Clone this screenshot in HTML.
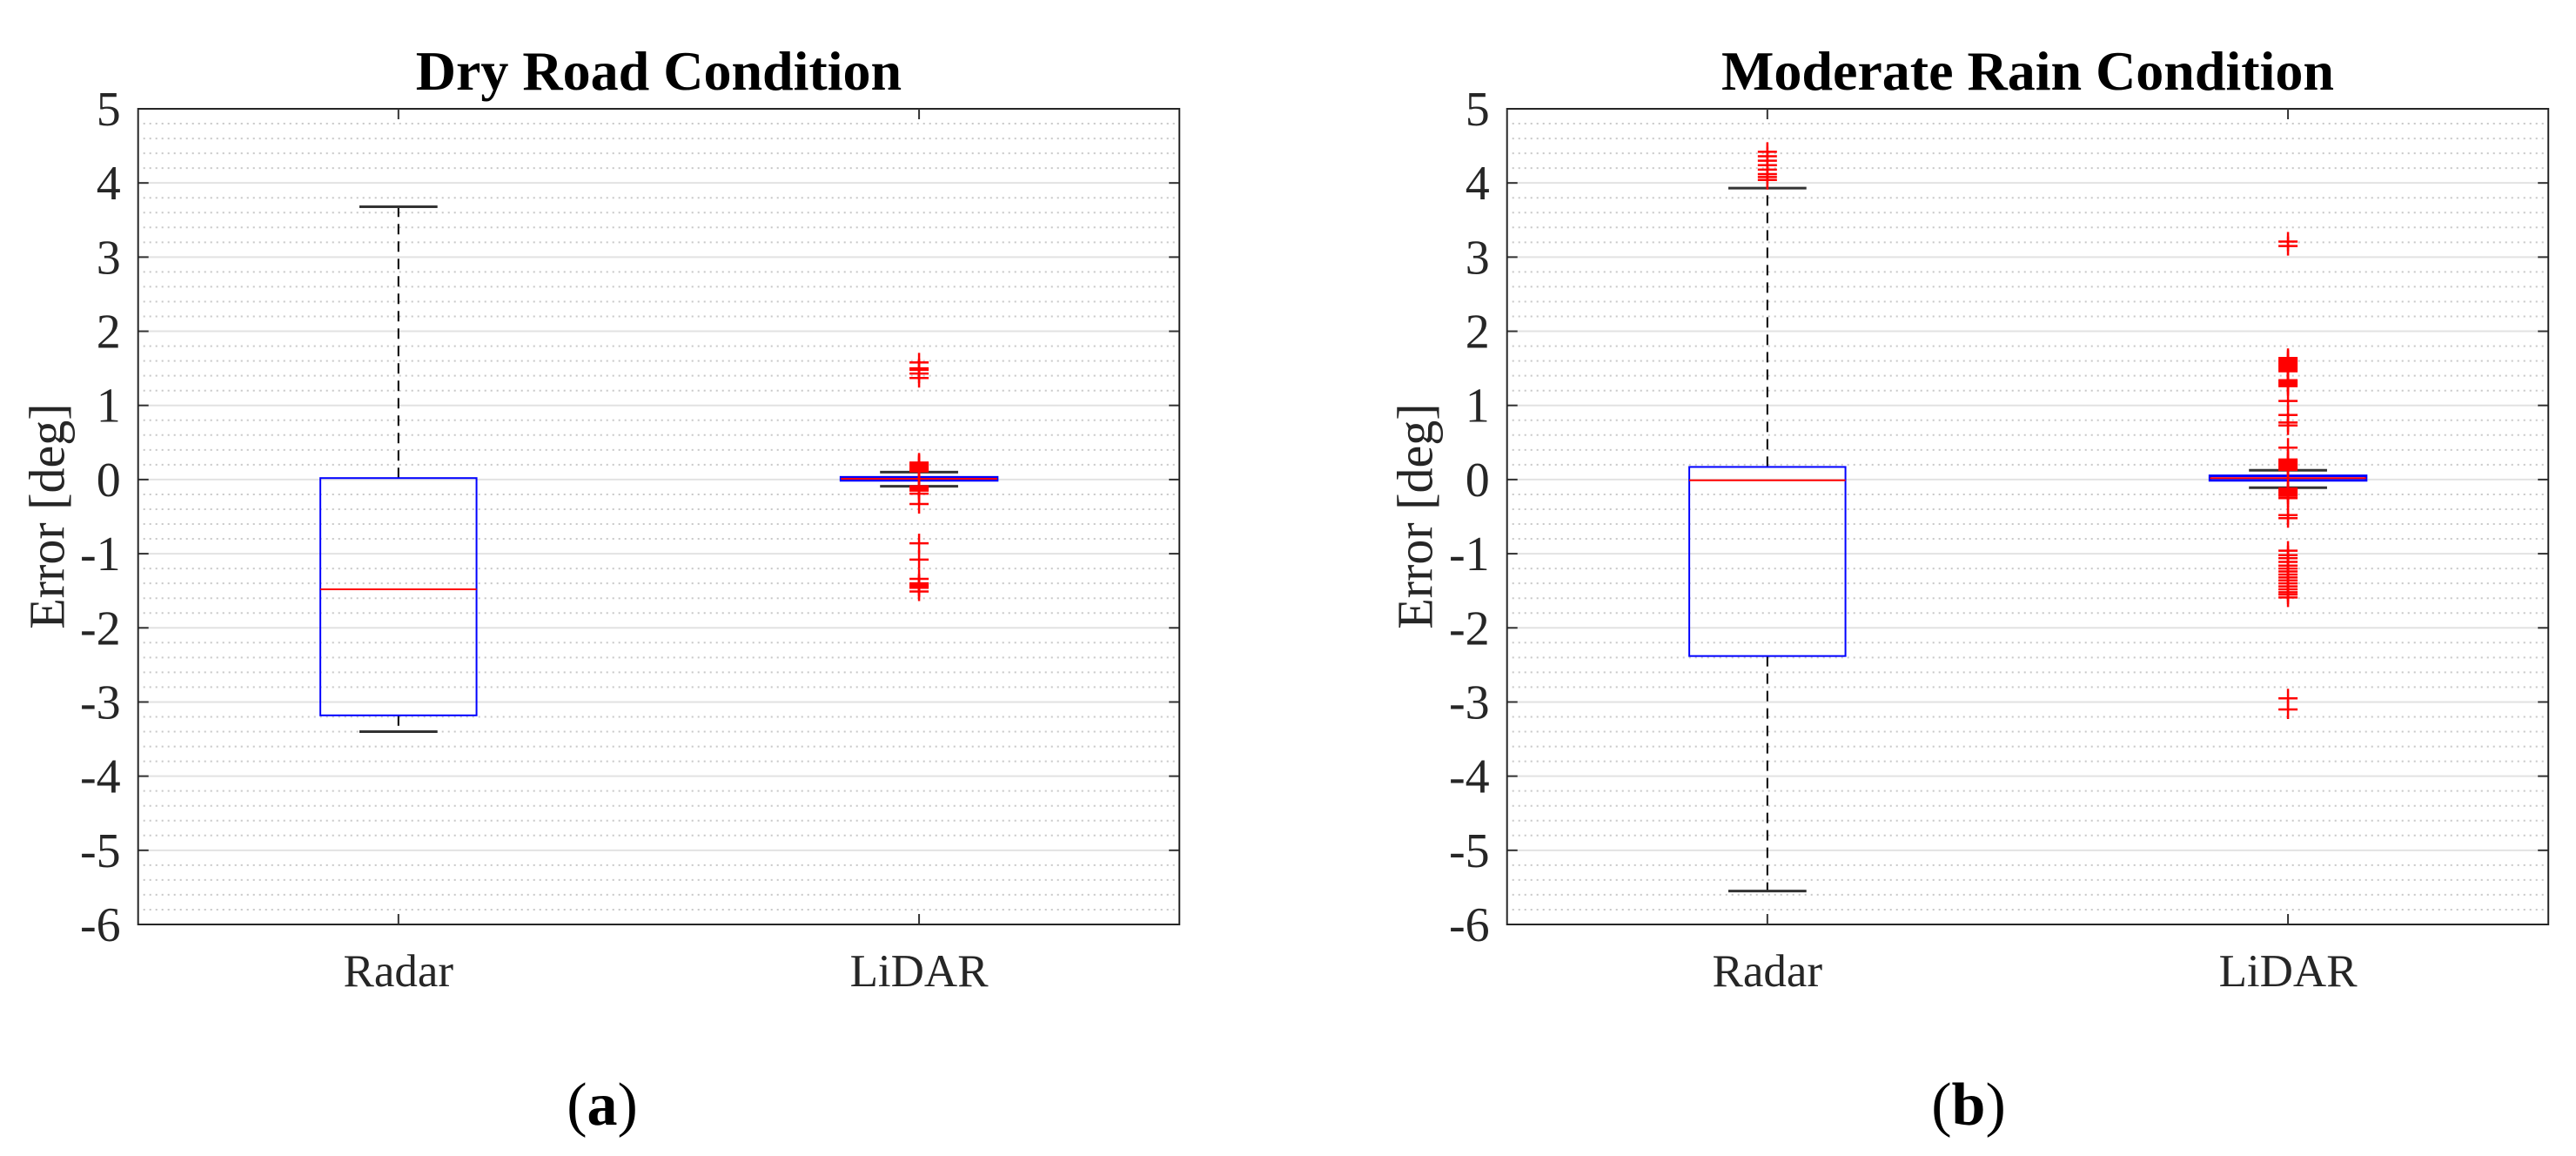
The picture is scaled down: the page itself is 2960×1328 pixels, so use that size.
<!DOCTYPE html>
<html><head><meta charset="utf-8"><style>
html,body{margin:0;padding:0;background:#fff;}
svg{display:block;font-family:"Liberation Serif",serif;}
</style></head><body>
<svg id="fig" width="2960" height="1328" viewBox="0 0 2960 1328" xmlns="http://www.w3.org/2000/svg"></svg>
<script>
// ---- data ----
const categories = ["Radar", "LiDAR"];
const yTicks = [5, 4, 3, 2, 1, 0, -1, -2, -3, -4, -5, -6];
const titles = ["Dry Road Condition", "Moderate Rain Condition"];
const panelLabels = ["(a)", "(b)"];
// [lowerWhisker, Q1, median, Q3, upperWhisker]
const dryRadarStats = [-3.40, -3.18, -1.48, 0.02, 3.68];
const dryLidarStats = [-0.09, -0.01, 0.01, 0.03, 0.10];
const rainRadarStats = [-5.55, -2.38, -0.01, 0.17, 3.93];
const rainLidarStats = [-0.11, -0.01, 0.02, 0.05, 0.125];
const dryRadarOutliers = [];
const dryLidarOutliers = [1.58, 1.50, 1.48, 1.43, 1.37,
  0.23, 0.215, 0.20, 0.185, 0.17, 0.155, 0.14, 0.125, 0.11,
  -0.09, -0.105, -0.12, -0.135, -0.15, -0.19, -0.33,
  -0.86, -1.08, -1.34, -1.40, -1.415, -1.43, -1.445, -1.46, -1.51];
const rainRadarOutliers = [4.42, 4.36, 4.30, 4.24, 4.18, 4.12, 4.08, 4.04];
const rainLidarOutliers = [3.21, 3.15,
  1.64, 1.62, 1.60, 1.58, 1.56, 1.54, 1.52, 1.50, 1.48, 1.46,
  1.34, 1.32, 1.30, 1.28, 1.26, 1.06, 0.87, 0.77, 0.73, 0.43,
  0.27, 0.25, 0.23, 0.21, 0.19, 0.17, 0.15, 0.13,
  -0.12, -0.14, -0.16, -0.18, -0.20, -0.22, -0.25, -0.48, -0.52,
  -0.96, -1.02, -1.06, -1.11, -1.16,
  -1.20, -1.24, -1.28, -1.32, -1.36, -1.40, -1.44, -1.48, -1.52, -1.55, -1.59,
  -2.95, -3.10];

const NS = "http://www.w3.org/2000/svg";
const svg = document.getElementById("fig");
function mk(tag, attrs, parent) {
  const e = document.createElementNS(NS, tag);
  for (const k in attrs) e.setAttribute(k, attrs[k]);
  (parent || svg).appendChild(e);
  return e;
}

const panels = [
  {x0: 158.7, stats: [dryRadarStats, dryLidarStats], outs: [dryRadarOutliers, dryLidarOutliers], title: titles[0], lab: panelLabels[0], labX: 692, ylabX: 54},
  {x0: 1731.7, stats: [rainRadarStats, rainLidarStats], outs: [rainRadarOutliers, rainLidarOutliers], title: titles[1], lab: panelLabels[1], labX: 2262, ylabX: 1626}
];
const W = 1196.5, Y0 = 125, Y1 = 1062, YMIN = -6, YMAX = 5;

panels.forEach((p, pi) => {
  const g = mk("g", {});
  
  
  const xs = v => p.x0 + (v - 0.5) / 2 * W;
  const ys = v => Y0 + (YMAX - v) / (YMAX - YMIN) * (Y1 - Y0);

  for (let i = 0; i <= 55; i++) {
    if (i % 5 === 0) continue;
    const y = Y0 + i * (Y1 - Y0) / 55;
    const l = mk("line", {x1: p.x0 + 6, x2: p.x0 + W - 4, y1: y, y2: y, stroke: "#c8c8c8", "stroke-width": 2, "stroke-dasharray": "2 5"}, g);
    
    
  }
  yTicks.forEach(t => {
    const y = ys(t);
    if (t !== YMAX && t !== YMIN) {
      const l = mk("line", {x1: p.x0, x2: p.x0 + W, y1: y, y2: y, stroke: "#e2e2e2", "stroke-width": 2}, g);
      
      
      mk("line", {x1: p.x0, x2: p.x0 + 12, y1: y, y2: y, stroke: "#333", "stroke-width": 2}, g);
      mk("line", {x1: p.x0 + W - 12, x2: p.x0 + W, y1: y, y2: y, stroke: "#333", "stroke-width": 2}, g);
    }
    const tx = mk("text", {x: p.x0 - 20, y: y + 19, "text-anchor": "end", "font-size": 56, fill: "#262626"}, g);
    tx.textContent = String(t);
    
    
  });
  const ax = mk("rect", {x: p.x0, y: Y0, width: W, height: Y1 - Y0, fill: "none", stroke: "#262626", "stroke-width": 2}, g);
  
  
  categories.forEach((c, ci) => {
    const x = xs(ci + 1);
    mk("line", {x1: x, x2: x, y1: Y0, y2: Y0 + 12, stroke: "#333", "stroke-width": 2}, g);
    mk("line", {x1: x, x2: x, y1: Y1 - 12, y2: Y1, stroke: "#333", "stroke-width": 2}, g);
    const tx = mk("text", {x: x, y: 1133, "text-anchor": "middle", "font-size": 53, fill: "#262626"}, g);
    tx.textContent = c;
    
    
  });
  p.stats.forEach((s, ci) => {
    const x = xs(ci + 1);
    const bw = 0.15 / 2 * W, cw = 0.075 / 2 * W;
    const bg = mk("g", {}, g);
    
    
    mk("line", {x1: x, x2: x, y1: ys(s[3]), y2: ys(s[4]), stroke: "#000", "stroke-width": 2, "stroke-dasharray": "12 8"}, bg);
    mk("line", {x1: x, x2: x, y1: ys(s[1]), y2: ys(s[0]), stroke: "#000", "stroke-width": 2, "stroke-dasharray": "12 8"}, bg);
    mk("line", {x1: x - cw, x2: x + cw, y1: ys(s[4]), y2: ys(s[4]), stroke: "#333", "stroke-width": 3}, bg);
    mk("line", {x1: x - cw, x2: x + cw, y1: ys(s[0]), y2: ys(s[0]), stroke: "#333", "stroke-width": 3}, bg);
    const h = ys(s[1]) - ys(s[3]);
    mk("rect", {x: x - bw, y: ys(s[3]), width: 2 * bw, height: Math.max(h, 1), fill: "none", stroke: "#0000ff", "stroke-width": h < 10 ? 3 : 2}, bg);
    mk("line", {x1: x - bw, x2: x + bw, y1: ys(s[2]), y2: ys(s[2]), stroke: "#ff0000", "stroke-width": 2}, bg);
    p.outs[ci].forEach(v => {
      const y = ys(v);
      const o = mk("path", {d: `M${x - 11} ${y}H${x + 11}M${x} ${y - 11}V${y + 11}`, stroke: "#ff0000", "stroke-width": 2.5, fill: "none"}, bg);
      
      
    });
  });
  const tt = mk("text", {x: p.x0 + W / 2, y: 103, "text-anchor": "middle", "font-size": 64, "font-weight": "bold", fill: "#000"}, g);
  tt.textContent = p.title;
  
  
  const yl = mk("text", {x: p.ylabX, y: 593, "text-anchor": "middle", "font-size": 58, fill: "#262626", transform: `rotate(-90 ${p.ylabX} 593)`, "dominant-baseline": "central"}, g);
  yl.textContent = "Error [deg]";
  
  
  const pl = mk("text", {x: p.labX, y: 1292, "text-anchor": "middle", "font-size": 70, fill: "#000"}, g);
  const t1 = mk("tspan", {}, pl); t1.textContent = "(";
  const t2 = mk("tspan", {"font-weight": "bold"}, pl); t2.textContent = p.lab.slice(1, 2);
  const t3 = mk("tspan", {}, pl); t3.textContent = ")";
  
  
});
</script>
</body></html>
